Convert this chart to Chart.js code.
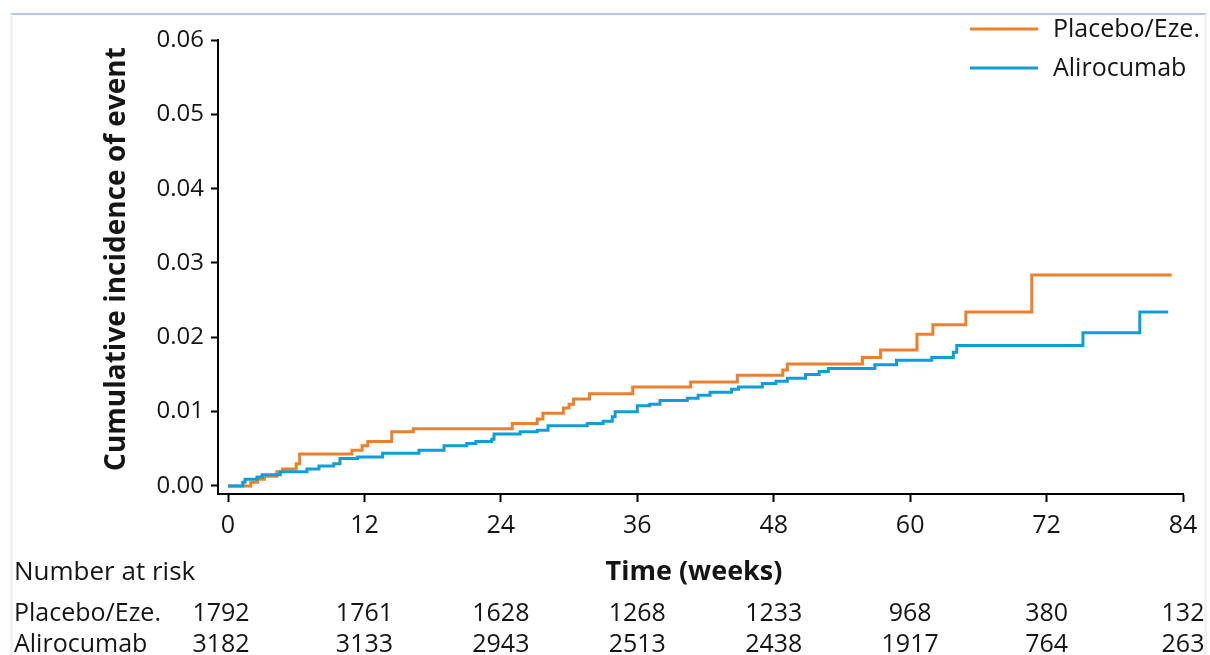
<!DOCTYPE html>
<html>
<head>
<meta charset="utf-8">
<title>Cumulative incidence</title>
<script src="https://cdn.jsdelivr.net/npm/chart.js@4.4.1/dist/chart.umd.min.js"></script>
<style>
    body { margin: 0; background: #fff; }
    .km-wrap { position: relative; width: 1210px; height: 655px; overflow: hidden; }
    .km-frame {
        position: absolute; left: 10px; top: 13px; right: 3px; bottom: -2px;
        border-top: 2px solid #b3c6e4;
        border-left: 3px solid #eef2f9;
        border-right: 3px solid #eef2f9;
    }
    #kmChart { position: absolute; left: 0; top: 0; }
</style>
</head>
<body>
<div class="km-wrap">
    <div class="km-frame"></div>
    <canvas id="kmChart" width="1210" height="655"></canvas>
</div>
<script>
// ------------------- Data -------------------
const placeboWeeks = [0, 2.0, 2.6, 3.2, 4.3, 4.8, 6.0, 6.3, 10.9, 11.8, 12.3, 14.4, 16.3,
    25.0, 27.2, 27.7, 29.5, 30.0, 30.4, 31.8, 35.6, 40.7, 44.8, 48.8, 49.2,
    55.8, 57.4, 60.6, 62.0, 64.9, 70.7, 83.0];
const placeboIncidence = [0, 0.0005, 0.0009, 0.0013, 0.0019, 0.0023, 0.0030, 0.0043, 0.0048, 0.0054, 0.0060, 0.0073, 0.0077,
    0.0084, 0.0090, 0.0098, 0.0105, 0.0110, 0.0117, 0.0124, 0.0133, 0.0140, 0.0149, 0.0156, 0.0164,
    0.0173, 0.0183, 0.0204, 0.0217, 0.0234, 0.0284, 0.0284];

const alirocumabWeeks = [0, 1.3, 1.5, 2.55, 3.0, 4.6, 6.95, 8.0, 9.3, 9.85, 11.4, 13.6, 16.8, 19.0, 21.0,
    21.8, 23.2, 23.4, 25.7, 27.2, 28.15, 31.6, 33.0, 33.8, 34.05, 36.0, 37.1, 38.0, 40.4, 41.35,
    42.4, 44.3, 44.9, 47.0, 48.2, 49.2, 50.8, 52.0, 52.8, 56.9, 58.8, 61.9, 63.8, 64.1, 75.2, 80.2, 82.7];
const alirocumabIncidence = [0, 0.0005, 0.0009, 0.0012, 0.0015, 0.0019, 0.0023, 0.0027, 0.0030, 0.0037, 0.0039, 0.0044, 0.0048, 0.0054, 0.0057,
    0.0060, 0.0063, 0.0070, 0.0073, 0.0075, 0.0081, 0.0084, 0.0087, 0.0093, 0.0100, 0.0108, 0.0110, 0.0115, 0.0118, 0.0122,
    0.0126, 0.0130, 0.0133, 0.0138, 0.0141, 0.0145, 0.0150, 0.0154, 0.0158, 0.0163, 0.0169, 0.0173, 0.0180, 0.0189, 0.0206, 0.0234, 0.0234];

const weekTicks = [0, 12, 24, 36, 48, 60, 72, 84];
const incidenceTicks = [0, 0.01, 0.02, 0.03, 0.04, 0.05, 0.06];

const groupLabels = ['Placebo/Eze.', 'Alirocumab'];
const placeboAtRisk = [1792, 1761, 1628, 1268, 1233, 968, 380, 132];
const alirocumabAtRisk = [3182, 3133, 2943, 2513, 2438, 1917, 764, 263];

// ------------------- Styles -------------------
const PLACEBO_COLOR = '#ee7f2d';
const ALIROCUMAB_COLOR = '#119dd9';
const TEXT_COLOR = '#151515';
const FONT = "'Open Sans', 'Noto Sans', sans-serif";

function toPoints(xs, ys) {
    return xs.map((x, i) => ({ x: x, y: ys[i] }));
}

// ------------------- Legend + Number at risk -------------------
const kmExtras = {
    id: 'kmExtras',
    afterDraw(chart) {
        const ctx = chart.ctx;
        const xScale = chart.scales.x;
        const area = chart.chartArea;
        ctx.save();
        ctx.fillStyle = TEXT_COLOR;

        // legend, top right
        const legendColors = [PLACEBO_COLOR, ALIROCUMAB_COLOR];
        const legendRows = [29, 68];
        ctx.font = `25px ${FONT}`;
        ctx.textBaseline = 'middle';
        ctx.textAlign = 'left';
        groupLabels.forEach((label, i) => {
            ctx.strokeStyle = legendColors[i];
            ctx.lineWidth = 3;
            ctx.beginPath();
            ctx.moveTo(970, legendRows[i]);
            ctx.lineTo(1038, legendRows[i]);
            ctx.stroke();
            ctx.fillText(label, 1053, legendRows[i] + 1);
        });

        // axis titles
        ctx.font = `bold 27px ${FONT}`;
        ctx.textAlign = 'center';
        ctx.textBaseline = 'alphabetic';
        ctx.fillText('Time (weeks)', 694, 580);

        ctx.save();
        ctx.translate(125, (area.top + area.bottom) / 2 - 8);
        ctx.rotate(-Math.PI / 2);
        ctx.font = `bold 28px ${FONT}`;
        ctx.fillText('Cumulative incidence of event', 0, 0);
        ctx.restore();

        // number at risk table
        ctx.font = `26px ${FONT}`;
        ctx.textAlign = 'left';
        ctx.fillText('Number at risk', 14, 580);

        ctx.font = `25px ${FONT}`;
        const rows = [placeboAtRisk, alirocumabAtRisk];
        const rowBaselines = [621, 652];
        rows.forEach((counts, r) => {
            ctx.textAlign = 'left';
            ctx.fillText(groupLabels[r], 14, rowBaselines[r]);
            ctx.textAlign = 'center';
            counts.forEach((n, i) => {
                ctx.fillText(String(n), xScale.getPixelForValue(weekTicks[i]) - (i === 0 ? 7 : 0), rowBaselines[r]);
            });
        });
        ctx.restore();
    }
};

// ------------------- Chart -------------------
function initKmChart() {
    const canvas = document.getElementById('kmChart');
    if (!canvas) return;

    new Chart(canvas.getContext('2d'), {
        type: 'line',
        data: {
            datasets: [
                {
                    label: groupLabels[0],
                    data: toPoints(placeboWeeks, placeboIncidence),
                    borderColor: PLACEBO_COLOR,
                    borderWidth: 3,
                    stepped: 'before',
                    pointRadius: 0,
                    fill: false,
                    order: 1
                },
                {
                    label: groupLabels[1],
                    data: toPoints(alirocumabWeeks, alirocumabIncidence),
                    borderColor: ALIROCUMAB_COLOR,
                    borderWidth: 3,
                    stepped: 'before',
                    pointRadius: 0,
                    fill: false,
                    order: 0
                }
            ]
        },
        options: {
            responsive: false,
            animation: false,
            events: [],
            layout: { padding: { top: 40, right: 27, left: 0, bottom: 0 } },
            plugins: {
                legend: { display: false },
                tooltip: { enabled: false }
            },
            scales: {
                x: {
                    type: 'linear',
                    min: -0.88,
                    max: 84,
                    afterBuildTicks: scale => { scale.ticks = weekTicks.map(v => ({ value: v })); },
                    afterFit: scale => { scale.height = 655 - 494; },
                    grid: { drawOnChartArea: false, drawTicks: true, tickLength: 8, tickWidth: 2, tickColor: '#000' },
                    border: { display: true, color: '#000', width: 2 },
                    ticks: {
                        font: { family: FONT, size: 25 },
                        color: TEXT_COLOR,
                        padding: 9,
                        autoSkip: false,
                        maxRotation: 0,
                        callback: v => String(v)
                    }
                },
                y: {
                    type: 'linear',
                    min: -0.00108,
                    max: 0.06,
                    afterBuildTicks: scale => { scale.ticks = incidenceTicks.map(v => ({ value: v })); },
                    afterFit: scale => { scale.width = 218; },
                    grid: { drawOnChartArea: false, drawTicks: true, tickLength: 7, tickWidth: 2, tickColor: '#000' },
                    border: { display: true, color: '#000', width: 2 },
                    ticks: {
                        font: { family: FONT, size: 24 },
                        color: TEXT_COLOR,
                        padding: 7,
                        callback: v => v.toFixed(2)
                    }
                }
            }
        },
        plugins: [kmExtras]
    });
}

document.addEventListener('DOMContentLoaded', () => {
    initKmChart();
});
</script>
</body>
</html>
